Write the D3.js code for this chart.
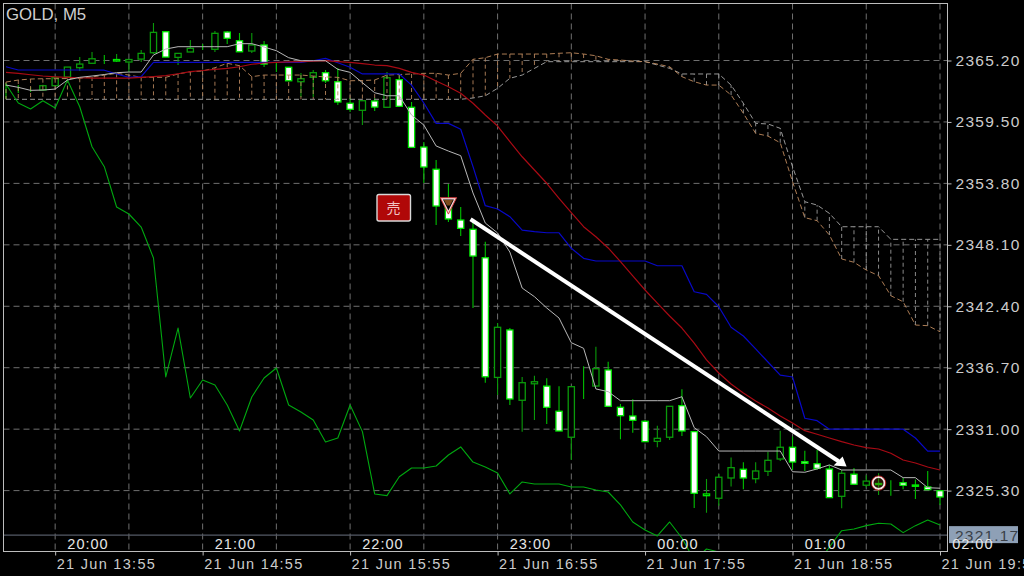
<!DOCTYPE html>
<html><head><meta charset="utf-8">
<script src="https://cdnjs.cloudflare.com/ajax/libs/d3/7.8.5/d3.min.js"></script>
<style>html,body{margin:0;padding:0;background:#000;overflow:hidden}svg{display:block}</style>
</head><body><svg id="c" width="1024" height="576"></svg>
<script>
const openP=[2362.50,2362.55,2362.46,2362.46,2362.86,2363.67,2364.53,2364.94,2365.24,2365.15,2365.06,2365.33,2365.92,2367.87,2365.49,2365.99,2366.38,2366.24,2367.84,2367.03,2366.08,2366.64,2364.72,2364.57,2363.23,2363.64,2364.07,2363.23,2361.23,2360.58,2361.44,2360.86,2363.42,2360.86,2357.17,2355.11,2351.98,2350.40,2349.54,2346.90,2335.80,2340.20,2333.68,2335.21,2334.99,2332.66,2330.25,2334.94,2335.00,2336.49,2333.03,2332.22,2331.73,2329.87,2330.25,2333.18,2330.77,2324.83,2324.59,2326.47,2327.28,2326.40,2327.09,2328.23,2329.32,2327.98,2327.79,2327.30,2324.77,2326.82,2325.80,2325.86,2326.18,2326.03,2325.82,2325.64,2325.29];
const closeP=[2362.50,2362.55,2362.46,2362.86,2363.60,2364.59,2364.87,2365.36,2365.24,2365.29,2365.29,2365.86,2367.81,2365.52,2365.86,2366.33,2366.38,2367.72,2367.26,2366.01,2366.64,2364.87,2364.72,2363.32,2363.51,2364.07,2363.32,2361.35,2360.67,2361.47,2360.88,2363.60,2360.95,2357.14,2355.32,2351.70,2350.50,2349.63,2347.06,2335.86,2340.45,2333.80,2335.31,2335.40,2333.03,2330.83,2334.94,2334.94,2336.61,2333.12,2332.25,2331.82,2329.84,2330.15,2333.12,2330.83,2325.05,2324.99,2326.54,2327.43,2326.47,2327.12,2328.11,2329.32,2327.95,2327.83,2327.36,2324.65,2326.91,2325.89,2326.18,2325.96,2326.18,2325.79,2325.70,2325.39,2324.71];
const highP=[2363.11,2362.92,2362.73,2362.95,2363.70,2364.59,2365.52,2365.98,2365.71,2365.80,2365.33,2366.17,2368.68,2367.87,2365.89,2367.10,2366.73,2367.93,2367.93,2367.75,2367.75,2367.01,2364.97,2364.60,2364.04,2364.32,2364.32,2364.50,2361.72,2361.53,2361.72,2364.13,2363.85,2361.35,2357.64,2355.97,2353.74,2351.61,2350.40,2348.39,2340.85,2340.38,2335.84,2335.95,2335.73,2334.99,2335.00,2336.84,2338.65,2337.26,2333.34,2333.77,2331.85,2331.32,2333.15,2334.70,2330.80,2326.38,2326.84,2328.36,2327.93,2327.93,2328.91,2330.86,2330.31,2329.00,2329.07,2327.67,2327.21,2327.40,2326.73,2326.91,2326.27,2326.47,2326.34,2327.12,2325.35];
const lowP=[2361.62,2362.18,2362.27,2362.40,2362.86,2363.67,2364.22,2364.87,2364.87,2365.06,2364.13,2365.06,2365.80,2365.52,2364.78,2365.99,2366.17,2365.99,2366.73,2365.99,2365.89,2364.59,2364.13,2363.30,2361.81,2361.81,2363.11,2361.07,2360.42,2359.21,2360.51,2360.86,2360.95,2357.08,2353.84,2349.94,2350.22,2348.92,2342.24,2335.30,2334.16,2333.24,2330.77,2331.85,2331.48,2330.83,2328.14,2333.80,2334.94,2333.12,2330.06,2330.67,2329.84,2329.32,2330.00,2330.37,2323.69,2323.25,2323.90,2325.67,2325.43,2325.98,2326.65,2328.05,2327.21,2327.12,2327.21,2324.65,2323.66,2325.83,2325.59,2324.89,2324.83,2325.43,2324.52,2325.36,2323.97];
const tenkan=[2362.92,2362.71,2362.43,2362.46,2362.55,2363.39,2363.64,2363.76,2363.90,2364.07,2364.13,2364.13,2365.71,2366.26,2366.48,2366.48,2366.48,2366.48,2366.48,2366.76,2366.76,2366.45,2366.11,2365.46,2365.18,2365.18,2365.18,2364.38,2364.10,2363.14,2362.21,2361.93,2361.93,2360.14,2359.21,2357.27,2356.80,2356.37,2352.91,2350.12,2349.20,2347.43,2344.09,2343.29,2342.24,2341.31,2339.02,2338.50,2334.73,2334.48,2333.64,2333.64,2333.64,2333.64,2333.64,2334.01,2331.14,2330.30,2328.97,2328.97,2328.97,2328.97,2328.97,2328.97,2327.05,2327.00,2327.31,2327.68,2327.21,2327.21,2327.21,2327.21,2327.21,2326.50,2326.50,2325.57,2325.52];
const kijun=[2364.62,2364.32,2364.32,2364.32,2364.32,2364.32,2364.32,2364.32,2364.30,2363.95,2363.64,2363.70,2365.03,2365.03,2365.03,2365.03,2365.03,2365.03,2365.03,2365.03,2365.03,2365.03,2365.03,2365.03,2365.03,2365.18,2365.40,2364.99,2364.57,2363.95,2363.95,2363.95,2363.95,2362.92,2361.26,2359.37,2359.37,2358.82,2355.35,2351.73,2351.42,2350.71,2349.47,2349.32,2349.22,2349.22,2347.78,2346.85,2346.60,2346.60,2346.60,2346.60,2346.60,2346.16,2346.16,2346.16,2343.75,2343.51,2342.36,2340.45,2339.64,2338.44,2337.23,2336.02,2335.84,2332.01,2331.79,2331.00,2331.00,2331.00,2331.00,2331.00,2331.00,2331.00,2330.18,2328.97,2328.97];
const slowMA=[2364.09,2364.01,2363.88,2363.76,2363.69,2363.64,2363.60,2363.57,2363.57,2363.57,2363.57,2363.64,2363.71,2363.79,2363.97,2364.16,2364.27,2364.37,2364.47,2364.62,2364.85,2364.97,2365.03,2365.07,2365.10,2365.15,2365.18,2365.10,2365.03,2364.91,2364.78,2364.72,2364.47,2364.10,2363.85,2363.30,2362.77,2362.16,2361.23,2360.14,2359.12,2357.67,2356.27,2355.04,2353.81,2352.42,2351.08,2349.78,2348.85,2347.81,2346.54,2345.21,2343.91,2342.70,2341.50,2340.38,2338.99,2337.42,2336.21,2335.19,2334.36,2333.61,2332.96,2332.22,2331.57,2330.86,2330.53,2330.18,2329.84,2329.53,2329.28,2329.16,2328.76,2328.14,2327.86,2327.49,2327.21];
const lagging=[2363.00,2361.26,2360.70,2361.47,2360.79,2363.39,2360.91,2357.20,2355.35,2351.61,2350.96,2349.75,2346.88,2335.84,2340.38,2333.89,2335.56,2335.10,2333.24,2330.83,2333.98,2335.75,2336.67,2333.24,2332.59,2331.85,2329.81,2330.18,2333.24,2330.77,2324.99,2324.83,2326.59,2327.40,2327.40,2327.58,2328.60,2329.35,2327.95,2327.49,2326.93,2324.99,2326.10,2325.91,2325.91,2325.91,2325.63,2325.63,2325.36,2325.17,2323.97,2322.39,2321.65,2321.09,2322.39,2320.90,2318.86,2319.88,2319.61,2318.12,2317.80,2317.80,2317.80,2317.80,2317.80,2317.80,2318.40,2320.07,2321.58,2321.74,2322.05,2322.27,2322.20,2321.40,2322.05,2322.57,2322.11];
const spanOrange=[2363.20,2363.39,2363.48,2363.51,2363.51,2363.53,2363.55,2363.67,2363.85,2364.01,2363.85,2363.64,2363.64,2363.64,2363.95,2364.16,2364.22,2364.53,2364.94,2364.72,2363.70,2363.85,2363.85,2363.85,2363.85,2363.76,2363.67,2363.64,2363.32,2363.34,2363.39,2363.85,2363.90,2363.95,2364.01,2364.01,2363.85,2364.01,2365.31,2365.46,2365.80,2365.80,2365.80,2365.80,2365.80,2365.87,2365.92,2365.80,2365.64,2365.31,2365.24,2365.15,2365.09,2364.87,2364.62,2363.70,2363.23,2362.92,2362.92,2362.00,2360.30,2358.44,2358.19,2357.57,2353.96,2350.62,2350.34,2349.01,2346.79,2346.48,2345.76,2345.24,2343.38,2342.82,2340.66,2340.60,2340.04];
const spanGray=[2361.60,2361.60,2361.60,2361.60,2361.60,2361.60,2361.60,2361.60,2361.60,2361.60,2361.60,2361.60,2361.60,2361.60,2361.60,2361.60,2361.60,2361.60,2361.60,2361.60,2361.60,2361.60,2361.60,2361.60,2361.60,2361.60,2361.60,2361.60,2361.60,2361.60,2361.60,2361.60,2361.60,2361.60,2361.60,2361.60,2361.60,2361.60,2361.72,2361.93,2362.62,2363.55,2363.85,2364.47,2365.09,2365.09,2365.09,2365.09,2365.09,2365.09,2365.09,2365.09,2365.09,2364.78,2364.47,2363.95,2363.95,2363.95,2363.95,2362.92,2361.23,2359.37,2359.31,2358.91,2355.35,2352.10,2351.79,2351.02,2349.78,2349.78,2349.78,2349.78,2348.61,2348.61,2348.61,2348.61,2348.61];
const priceTicks=[2365.20,2359.50,2353.80,2348.10,2342.40,2336.70,2331.00,2325.30];
const gridBars=[4,10,16,22,28,34,40,46,52,58,64,70,76];
const timeBars=[4,16,28,40,52,64,76];
const timeLabels=["21 Jun 13:55","21 Jun 14:55","21 Jun 15:55","21 Jun 16:55","21 Jun 17:55","21 Jun 18:55","21 Jun 19:55"];
const sessionBars=[6.67,18.67,30.67,42.67,54.67,66.67,78.67];
const sessionLabels=["20:00","21:00","22:00","23:00","00:00","01:00","02:00"];
const currentPrice=2321.17;
const arrowBars=[37.8,68.4], arrowPrices=[2350.47,2327.54];
const sellBar=36, sellPrice=2351.75, closeBar=71, closePrice=2326.00;

const L=3.5,R=947.5,T=3.5,B=551.5;
const x=d3.scaleLinear().domain([0,76]).range([6,940]);
const y=d3.scaleLinear().domain([2365.2,2325.3]).range([60.5,490.6]);
const svg=d3.select("#c");
const FONT='"Liberation Sans",Arial,sans-serif';
svg.append("rect").attr("width",1024).attr("height",576).attr("fill","#000");
const defs=svg.append("defs");
defs.append("clipPath").attr("id","plot").append("rect").attr("x",L).attr("y",T).attr("width",R-L).attr("height",B-T);
const dash="6,4",gridCol="#6f6f6f";
const grid=svg.append("g");
grid.selectAll("line.h").data(priceTicks).join("line").attr("class","h").attr("x1",L).attr("x2",R).attr("y1",d=>y(d)).attr("y2",d=>y(d)).attr("stroke",gridCol).attr("stroke-dasharray",dash);
grid.selectAll("line.v").data(gridBars).join("line").attr("class","v").attr("x1",d=>x(d)).attr("x2",d=>x(d)).attr("y1",T).attr("y2",B).attr("stroke",gridCol).attr("stroke-dasharray",dash);
svg.append("line").attr("x1",L).attr("x2",R).attr("y1",y(currentPrice)).attr("y2",y(currentPrice)).attr("stroke","#555a66").attr("stroke-width",1.2);
const plot=svg.append("g").attr("clip-path","url(#plot)");
const bars=d3.range(openP.length);
const bw=6.2;
plot.selectAll("line.w").data(bars).join("line").attr("class","w").attr("x1",i=>x(i)).attr("x2",i=>x(i)).attr("y1",i=>y(highP[i])).attr("y2",i=>y(lowP[i])).attr("stroke",i=>closeP[i]>openP[i]?"#0a9a0a":"#00c000").attr("stroke-width",1.1);
plot.selectAll("rect.b").data(bars).join("rect").attr("class","b").attr("x",i=>x(i)-bw/2).attr("width",bw)
 .attr("y",i=>y(Math.max(openP[i],closeP[i]))).attr("height",i=>Math.abs(y(openP[i])-y(closeP[i])))
 .attr("fill",i=>closeP[i]<openP[i]?"#fff":"#000")
 .attr("stroke",i=>closeP[i]>openP[i]&&Math.abs(y(openP[i])-y(closeP[i]))>2?"#0a9a0a":"#00e800").attr("stroke-width",1.3);
bars.forEach(i=>{
 plot.append("line").attr("x1",x(i)).attr("x2",x(i)).attr("y1",y(spanOrange[i])).attr("y2",y(spanGray[i])).attr("stroke",spanGray[i]>spanOrange[i]?"#9a9a9a":"#b5845c").attr("stroke-dasharray","4,3").attr("stroke-width",.9);});
const ln=a=>d3.line().x((d,i)=>x(i)).y(d=>y(d))(a);
plot.append("path").attr("d",ln(spanGray)).attr("fill","none").attr("stroke","#a8a8a8").attr("stroke-dasharray","5,3").attr("stroke-width",.9);
plot.append("path").attr("d",ln(spanOrange)).attr("fill","none").attr("stroke","#c08a5e").attr("stroke-dasharray","5,3").attr("stroke-width",.9);
[[lagging,"#00a810",1.1],[kijun,"#0808c8",1.2],[slowMA,"#a80a14",1.2],[tenkan,"#b8b8b8",1]].forEach(([a,c,w])=>{
 plot.append("path").attr("d",ln(a)).attr("fill","none").attr("stroke",c).attr("stroke-width",w).attr("stroke-linejoin","round");});
svg.append("rect").attr("x",L).attr("y",T).attr("width",R-L).attr("height",B-T).attr("fill","none").attr("stroke","#bdbdbd").attr("stroke-width",1);
const cy=y(currentPrice);
svg.append("rect").attr("x",949).attr("y",cy-9).attr("width",69).attr("height",17).attr("fill","#8ea0b6");
svg.append("text").attr("x",955).attr("y",cy+5.5).attr("font-family",FONT).attr("font-size",15.5).attr("letter-spacing",1.2).attr("fill","#3a4048").text(currentPrice.toFixed(2));
const ya=svg.append("g").attr("transform",`translate(${R},0)`).call(d3.axisRight(y).tickValues(priceTicks).tickFormat(d3.format(".2f")).tickSize(4).tickPadding(4));
ya.select(".domain").remove();
ya.selectAll("line").attr("stroke","#bdbdbd");
ya.selectAll("text").attr("font-family",FONT).attr("font-size",15.5).attr("letter-spacing",1.3).attr("fill","#cccccc");
const xa=svg.append("g").attr("transform",`translate(0,${B})`).call(d3.axisBottom(x).tickValues(timeBars).tickFormat((d,i)=>timeLabels[i]).tickSize(4).tickPadding(3));
xa.select(".domain").remove();
xa.selectAll("line").attr("stroke","#bdbdbd");
xa.selectAll("text").attr("text-anchor","start").attr("dx",1).attr("font-family",FONT).attr("font-size",14.5).attr("letter-spacing",1.3).attr("fill","#cccccc");
svg.append("g").selectAll("text").data(sessionBars).join("text").attr("x",d=>x(d)).attr("y",549).attr("text-anchor","middle").attr("font-family",FONT).attr("font-size",14.5).attr("letter-spacing",1).attr("fill","#e6e6e6").text((d,i)=>sessionLabels[i]);
svg.append("text").attr("x",6).attr("y",20).attr("font-family",FONT).attr("font-size",16.8).attr("fill","#cfcfcf").text("GOLD, M5");
const ax0=x(arrowBars[0]),ay0=y(arrowPrices[0]),ax1=x(arrowBars[1]),ay1=y(arrowPrices[1]);
svg.append("line").attr("x1",ax0).attr("y1",ay0).attr("x2",ax1-8).attr("y2",ay1-5.2).attr("stroke","#fff").attr("stroke-width",4);
svg.append("path").attr("d",`M${ax1},${ay1}L${ax1-13},${ay1-1}L${ax1-4},${ay1-10}Z`).attr("fill","#fff");
const sx=x(sellBar),sy=y(sellPrice);
svg.append("path").attr("d",`M${sx-7},${sy-7}L${sx+7},${sy-7}L${sx},${sy+7}Z`).attr("fill","#000").attr("stroke","#f6d8d8").attr("stroke-width",1.8);
svg.append("path").attr("d",`M${sx-4.5},${sy-5.5}L${sx+4.5},${sy-5.5}L${sx+1.5},${sy}L${sx-1.5},${sy}Z`).attr("fill","#7a4a1c");
svg.append("path").attr("d",`M${sx-8.2},${sy-7.8}L${sx+8.2},${sy-7.8}L${sx},${sy+8.6}Z`).attr("fill","none").attr("stroke","#c81818").attr("stroke-width",.8);
svg.append("rect").attr("x",377).attr("y",194.5).attr("width",33.5).attr("height",26.5).attr("rx",2).attr("fill","#b00808").attr("stroke","#d8d8d8").attr("stroke-width",1.4);
svg.append("text").attr("x",393.5).attr("y",213).attr("text-anchor","middle").attr("font-family",'"Noto Sans CJK JP"').attr("font-size",14).attr("fill","#f0c4c4").text("売");
const ox=x(closeBar),oy=y(closePrice);
svg.append("circle").attr("cx",ox).attr("cy",oy).attr("r",6).attr("fill","#6b3410").attr("fill-opacity",.35).attr("stroke","#f4e6e6").attr("stroke-width",2);
svg.append("circle").attr("cx",ox).attr("cy",oy).attr("r",7.2).attr("fill","none").attr("stroke","#c81818").attr("stroke-width",.8);
</script></body></html>
